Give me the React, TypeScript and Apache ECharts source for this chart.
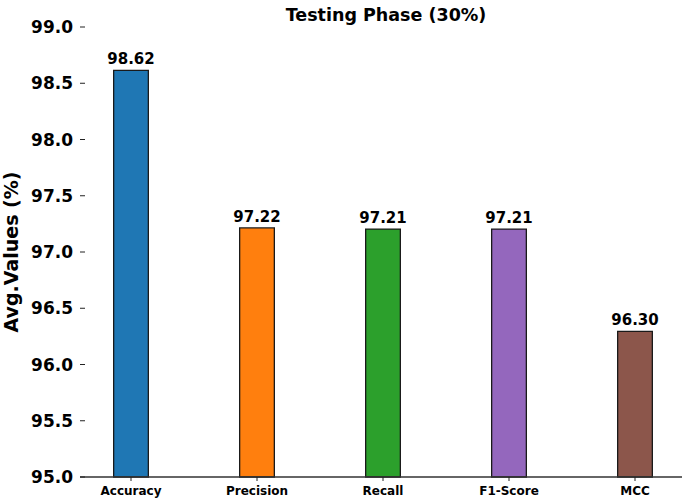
import React, { useEffect, useRef } from "react";
import * as echarts from "echarts";

const categories = ["Accuracy", "Precision", "Recall", "F1-Score", "MCC"];
const values = [98.62, 97.22, 97.21, 97.21, 96.3];
const colors = ["#1f77b4", "#ff7f0e", "#2ca02c", "#9467bd", "#8c564b"];
const positions = [0, 1, 2, 3, 4];
const yTicks = [95, 95.5, 96, 96.5, 97, 97.5, 98, 98.5, 99];

const FONT = "DejaVu Sans";

export default function App() {
  const ref = useRef<HTMLDivElement>(null);
  useEffect(() => {
    if (!ref.current) return;
    const chart = echarts.init(ref.current, null, { renderer: "svg" });
    chart.setOption({
      animation: false,
      backgroundColor: "#ffffff",
      title: {
        text: "Testing Phase (30%)",
        left: 381,
        top: 1,
        textAlign: "center",
        textStyle: { fontFamily: FONT, fontWeight: "bold", fontSize: 17.5, color: "#000" },
      },
      grid: {
        left: 85,
        right: 3,
        top: 27,
        bottom: 27,
        containLabel: false,
        outerBoundsMode: "none",
      },
      xAxis: {
        type: "value",
        min: (85 - 131) / 126,
        max: (682 - 131) / 126,
        splitLine: { show: false },
        axisLine: { show: false },
        axisTick: { show: false },
        axisLabel: {
          customValues: positions,
          formatter: (v: number) => categories[Math.round(v)] ?? "",
          fontFamily: FONT,
          fontWeight: "bold",
          fontSize: 12,
          color: "#000",
          margin: 8,
        },
      },
      yAxis: {
        type: "value",
        min: 95,
        max: 99,
        interval: 0.5,
        name: "Avg.Values (%)",
        nameLocation: "middle",
        nameGap: 62,
        nameRotate: 90,
        nameTextStyle: { fontFamily: FONT, fontWeight: "bold", fontSize: 19, color: "#000" },
        splitLine: { show: false },
        axisLine: { show: false },
        axisTick: { show: false },
        axisLabel: {
          formatter: (v: number) => v.toFixed(1),
          fontFamily: FONT,
          fontWeight: "bold",
          fontSize: 17,
          color: "#000",
          margin: 12,
        },
      },
      series: [
        {
          type: "bar",
          barWidth: 36,
          data: values.map((v, i) => ({
            value: [positions[i], v],
            itemStyle: { color: colors[i], borderColor: "#1a1a1a", borderWidth: 1.3 },
          })),
          label: {
            show: true,
            position: "top",
            distance: 3,
            formatter: (p: any) => (p.value[1] as number).toFixed(2),
            fontFamily: FONT,
            fontWeight: "bold",
            fontSize: 15,
            color: "#000",
          },
        },
      ],
    });

    // Bottom spine and tick marks, placed through the chart's own scales
    const base = chart.convertToPixel({ gridIndex: 0 }, [positions[0], yTicks[0]]) as number[];
    const axisY = base[1];
    const gridRect = (chart as any).getModel().getComponent("grid", 0).coordinateSystem.getRect();
    const axisX = gridRect.x;
    const elements: any[] = [
      {
        type: "line",
        shape: { x1: axisX - 5, y1: axisY, x2: gridRect.x + gridRect.width, y2: axisY },
        style: { stroke: "#333", lineWidth: 1.4 },
        z: 10,
      },
    ];
    positions.forEach((p) => {
      const px = chart.convertToPixel({ gridIndex: 0 }, [p, yTicks[0]]) as number[];
      elements.push({
        type: "line",
        shape: { x1: px[0], y1: axisY, x2: px[0], y2: axisY + 4 },
        style: { stroke: "#222", lineWidth: 1 },
        z: 10,
      });
    });
    yTicks.forEach((t) => {
      const py = chart.convertToPixel({ gridIndex: 0 }, [positions[0], t]) as number[];
      elements.push({
        type: "line",
        shape: { x1: axisX - 5, y1: py[1], x2: axisX, y2: py[1] },
        style: { stroke: "#222", lineWidth: 1 },
        z: 10,
      });
    });
    chart.setOption({ graphic: elements });

    return () => chart.dispose();
  }, []);
  return (
    <div
      ref={ref}
      style={{ position: "fixed", left: 0, top: 0, width: 685, height: 504 }}
    />
  );
}
